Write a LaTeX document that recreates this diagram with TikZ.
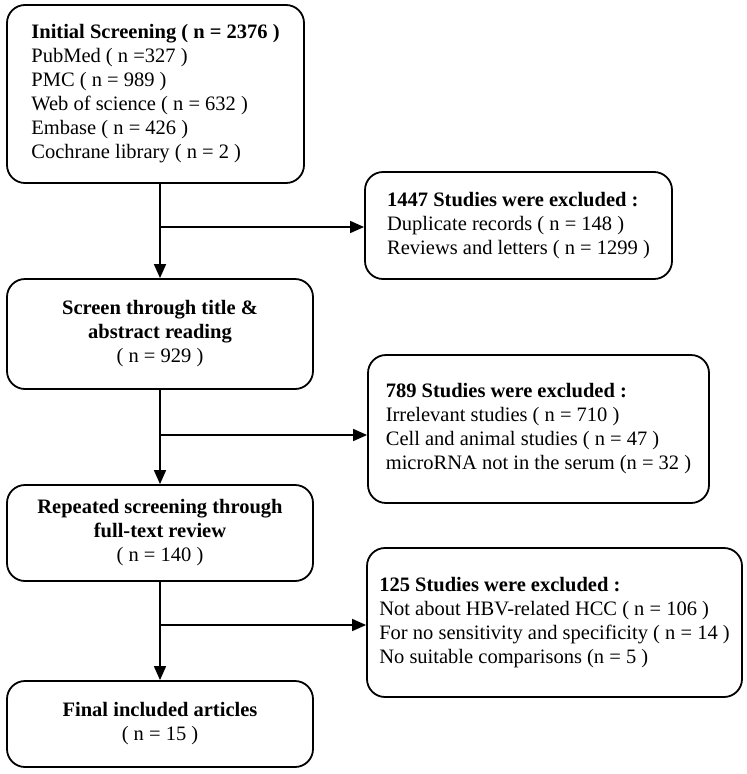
\documentclass[tikz,border=0pt]{standalone}
\usepackage{fontspec}
\setmainfont{Liberation Serif}
\usetikzlibrary{arrows.meta}
\tikzstyle{box} = [draw=black, line width=1.8pt, rounded corners=18pt, inner sep=0pt, font={\fontsize{20.5}{24}\selectfont}]
\tikzstyle{flow} = [line width=1.6pt, -{Triangle[length=14pt,width=12pt]}]
\tikzstyle{tap} = [line width=1.6pt]

\begin{document}
\begin{tikzpicture}[x=1pt,y=-1pt]
        \useasboundingbox (0,0) rectangle (747,774);
        \node[box,align=left,minimum width=297pt,minimum height=178pt](init) at (155.5,94){\textbf{Initial Screening ( n = 2376 )}\\PubMed ( n =327 )\\PMC ( n = 989 )\\Web of science ( n = 632 )\\Embase ( n = 426 )\\Cochrane library ( n = 2 )};
        \node[box,align=center,minimum width=306pt,minimum height=110pt](screen) at (160,334){\textbf{Screen through title \&}\\\textbf{abstract reading}\\( n = 929 )};
        \node[box,align=center,minimum width=306pt,minimum height=96pt](full) at (160,533){\textbf{Repeated screening through}\\\textbf{full-text review}\\( n = 140 )};
        \node[box,align=center,minimum width=306pt,minimum height=86pt](final) at (160,724){\textbf{Final included articles}\\( n = 15 )};
        \node[box,align=left,minimum width=307pt,minimum height=107pt](excl1) at (518.5,225.5){\textbf{1447 Studies were excluded :}\\Duplicate records ( n = 148 )\\Reviews and letters ( n = 1299 )};
        \node[box,align=left,minimum width=341pt,minimum height=148pt](excl2) at (538.5,429){\textbf{789 Studies were excluded :}\\Irrelevant studies ( n = 710 )\\Cell and animal studies ( n = 47 )\\microRNA not in the serum (n = 32 )};
        \node[box,align=left,minimum width=375pt,minimum height=149pt](excl3) at (554.5,622.5){\textbf{125 Studies were excluded :}\\Not about HBV-related HCC ( n = 106 )\\For no sensitivity and specificity ( n = 14 )\\No suitable comparisons (n = 5 )};
        \coordinate(j1) at (160,227);
        \coordinate(j2) at (160,435);
        \coordinate(j3) at (160,625);
        \draw[flow](init.south -| screen)--(screen.north);
        \draw[flow](screen.south)--(full.north);
        \draw[flow](full.south)--(final.north);
        \draw[flow](j1)--(j1 -| excl1.west);
        \draw[flow](j2)--(j2 -| excl2.west);
        \draw[flow](j3)--(j3 -| excl3.west);
      \end{tikzpicture}
\end{document}
